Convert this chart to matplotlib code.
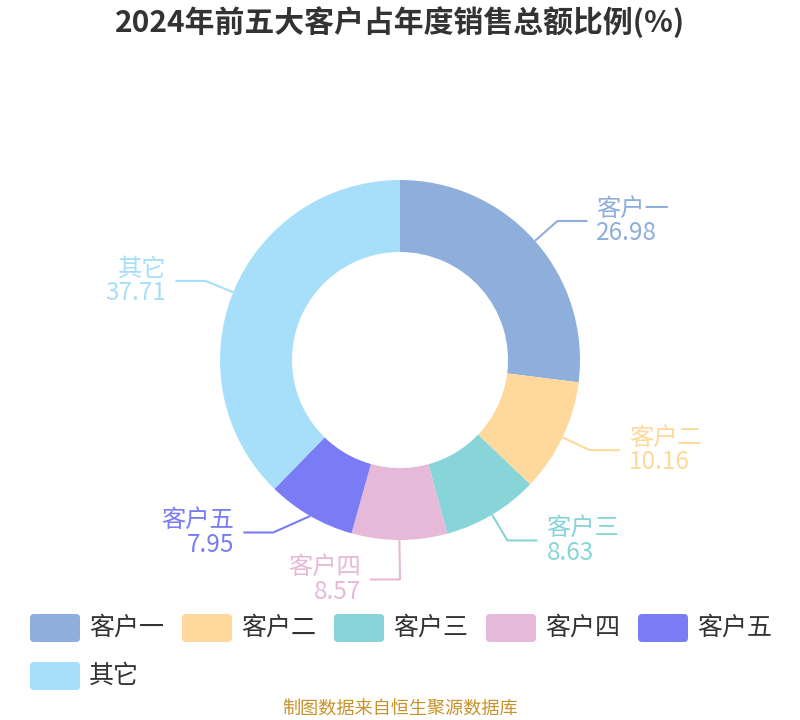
import numpy as np
import matplotlib.pyplot as plt
from matplotlib.patches import FancyBboxPatch

plt.rcParams['font.family'] = ['Noto Sans CJK SC', 'DejaVu Sans']

# data
names = ['客户一', '客户二', '客户三', '客户四', '客户五', '其它']
values = [26.98, 10.16, 8.63, 8.57, 7.95, 37.71]
colors = ['#8eaedb', '#fed99b', '#87d5d8', '#e7b9d8', '#797cf5', '#a7dffa']

W, H = 800, 720
cx, cy = 400, 360      # pie center in pixels (y from top)
R, r_in = 180, 108

fig = plt.figure(figsize=(8, 7.2), dpi=100)
ax = fig.add_axes([0, 0, 1, 1])

def py(y):
    # pixel y (from top) -> data y
    return H - y

ax.pie(values, colors=colors, startangle=90, counterclock=False,
       center=(cx, py(cy)), radius=R,
       wedgeprops=dict(width=R - r_in, linewidth=0))
# pie resets the limits, so set them afterwards
ax.set_xlim(0, W)
ax.set_ylim(0, H)
ax.set_aspect('equal')
ax.axis('off')

# label layout (echarts-like)
total = sum(values)
cum = np.cumsum([0] + values[:-1])
mids = [(c + v / 2) / total * 2 * np.pi for c, v in zip(cum, values)]
r_bend = 210
line_h = 23
labels = []
for name, val, col, a in zip(names, values, colors, mids):
    sx, sy = cx + R * np.sin(a), cy - R * np.cos(a)
    bx, by = cx + r_bend * np.sin(a), cy - r_bend * np.cos(a)
    side = 1 if np.sin(a) > 0.001 else -1
    labels.append(dict(name=name, val=val, col=col, sx=sx, sy=sy, bx=bx, by=by, side=side))

# simple overlap avoidance per side
need = 2 * line_h + 1
for side in (1, -1):
    grp = sorted([l for l in labels if l['side'] == side], key=lambda l: l['by'])
    for a_, b_ in zip(grp[:-1], grp[1:]):
        gap = b_['by'] - a_['by']
        if gap < need:
            shift = (need - gap) / 2
            for l, s in ((a_, -shift), (b_, shift)):
                l['by'] += s
                dy = l['by'] - cy
                l['bx'] = cx + side * np.sqrt(max(214 ** 2 - dy ** 2, 0))

for l in labels:
    ex = l['bx'] + l['side'] * 30
    ax.plot([l['sx'], l['bx'], ex], [py(l['sy']), py(l['by']), py(l['by'])],
            color=l['col'], lw=1.5, solid_capstyle='butt')
    tx = ex + l['side'] * 9
    ha = 'left' if l['side'] > 0 else 'right'
    ax.text(tx, py(l['by']), f"{l['name']}\n{l['val']:.2f}", color=l['col'],
            fontsize=17.5, ha=ha, ma=ha, va='center', linespacing=0.92)

# title and footer
ax.text(W / 2, py(22), '2024年前五大客户占年度销售总额比例(%)', fontsize=21.5,
        fontweight='bold', color='#333333', ha='center', va='center')
ax.text(W / 2, py(710), '制图数据来自恒生聚源数据库', fontsize=13.1,
        color='#c8922a', ha='center', va='center')

# legend
for i, (name, col) in enumerate(zip(names, colors)):
    row, colno = divmod(i, 5)
    x0 = 30 + colno * 152
    y0 = 614 + row * 48
    box = FancyBboxPatch((x0 + 4, py(y0 + 28) + 4), 42, 20,
                         boxstyle='round,pad=4', fc=col, ec='none')
    ax.add_patch(box)
    ax.text(x0 + 59, py(y0 + 14), name, fontsize=18, color='#333333',
            ha='left', va='center')

fig.savefig('out.png', dpi=100)
